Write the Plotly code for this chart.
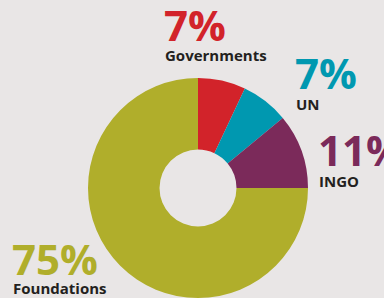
import plotly.graph_objects as go

categories = ["Governments", "UN", "INGO", "Foundations"]
values = [7, 7, 11, 75]
pct_labels = ["7%", "7%", "11%", "75%"]
colors = ["#d2232a", "#0098b0", "#7b2a5a", "#b0ae2b"]

W, H = 384, 298
BG = "#e9e6e6"

fig = go.Figure(go.Pie(
    labels=categories,
    values=values,
    sort=False,
    direction="clockwise",
    rotation=0,
    hole=0.35,
    marker=dict(colors=colors, line=dict(width=0)),
    textinfo="none",
    hoverinfo="label+percent",
    showlegend=False,
    domain=dict(x=[88 / W, 308 / W], y=[0, 220 / H]),
))

# label positions (left px, center y px of big number, center y px of name)
pos = [(165, 23, 55), (296, 71, 103.5), (319, 148.5, 181), (13, 257, 287.5)]

annotations = []
for (x, yn, yl), pct, cat, col in zip(pos, pct_labels, categories, colors):
    annotations.append(dict(
        x=(x - 3) / W, y=1 - (yn + 1) / H, xref="paper", yref="paper",
        xanchor="left", yanchor="middle", showarrow=False,
        text="<b>%s</b>" % pct,
        font=dict(family="Open Sans", size=42, color=col),
    ))
    annotations.append(dict(
        x=(x - 2) / W, y=1 - yl / H, xref="paper", yref="paper",
        xanchor="left", yanchor="middle", showarrow=False,
        text="<b>%s</b>" % cat,
        font=dict(family="Open Sans", size=15, color="#231f20"),
    ))

fig.update_layout(
    width=W, height=H,
    margin=dict(l=0, r=0, t=0, b=0),
    paper_bgcolor=BG, plot_bgcolor=BG,
    annotations=annotations,
)

fig.write_html(
    "out.html",
    config={"displayModeBar": False},
    post_script="document.body.style.margin='0';document.body.style.background='%s';" % BG,
)
